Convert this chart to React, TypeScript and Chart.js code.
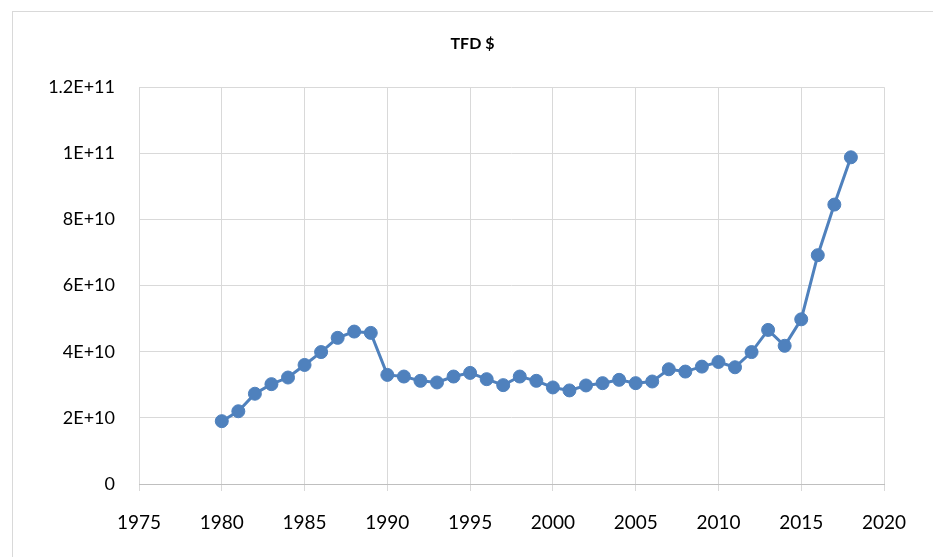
import React, { useEffect, useRef } from "react";
import { Chart, registerables } from "chart.js";

Chart.register(...registerables);

const chartTitle = "TFD $";

const years = [
  1980, 1981, 1982, 1983, 1984, 1985, 1986, 1987, 1988, 1989,
  1990, 1991, 1992, 1993, 1994, 1995, 1996, 1997, 1998, 1999,
  2000, 2001, 2002, 2003, 2004, 2005, 2006, 2007, 2008, 2009,
  2010, 2011, 2012, 2013, 2014, 2015, 2016, 2017, 2018,
];

const tfdValues = [
  1.9e10, 2.2e10, 2.73e10, 3.02e10, 3.22e10, 3.6e10, 3.99e10, 4.42e10, 4.61e10, 4.57e10,
  3.3e10, 3.25e10, 3.12e10, 3.07e10, 3.25e10, 3.36e10, 3.17e10, 2.99e10, 3.25e10, 3.12e10,
  2.92e10, 2.83e10, 2.98e10, 3.05e10, 3.15e10, 3.05e10, 3.1e10, 3.47e10, 3.4e10, 3.55e10,
  3.69e10, 3.53e10, 3.99e10, 4.66e10, 4.18e10, 4.98e10, 6.92e10, 8.45e10, 9.88e10,
];

const yTickLabels = ["0", "2E+10", "4E+10", "6E+10", "8E+10", "1E+11", "1.2E+11"];

const xMin = 1975;
const xMax = 2020;
const xStep = 5;
const yMin = 0;
const yMax = 1.2e11;
const yStep = 2e10;

const seriesColor = "#4F81BD";
const gridColor = "#d9d9d9";
const fontFamily = "Lato, 'Open Sans', sans-serif";

const framePlugin = {
  id: "frame",
  beforeDraw(chart: any) {
    const ctx = chart.ctx;
    ctx.save();
    ctx.strokeStyle = "#d9d9d9";
    ctx.lineWidth = 1;
    ctx.strokeRect(12.5, 11.5, 1000, 1000);
    ctx.restore();
  },
};

export default function App() {
  const ref = useRef<HTMLCanvasElement | null>(null);

  useEffect(() => {
    if (!ref.current) return;
    const points = years.map((y, i) => ({ x: y, y: tfdValues[i] }));
    const chart = new Chart(ref.current, {
      type: "line",
      data: {
        datasets: [
          {
            label: chartTitle,
            data: points,
            borderColor: seriesColor,
            backgroundColor: seriesColor,
            borderWidth: 3,
            pointRadius: 6.5,
            pointBorderWidth: 1,
            pointBackgroundColor: seriesColor,
            pointBorderColor: seriesColor,
            tension: 0,
            clip: false as any,
          },
        ],
      },
      options: {
        animation: false,
        responsive: false,
        devicePixelRatio: 1,
        layout: { padding: { left: 12, top: 12, right: 0, bottom: 0 } },
        plugins: {
          legend: { display: false },
          tooltip: { enabled: false },
          title: {
            display: true,
            text: chartTitle,
            color: "#000",
            font: { family: fontFamily, size: 16, weight: "bold" },
            padding: { top: 22, bottom: 34 },
          },
        },
        scales: {
          x: {
            type: "linear",
            min: xMin,
            max: xMax,
            grid: { color: gridColor, lineWidth: 1, tickLength: 7, drawTicks: true },
            border: { display: true, color: "#bfbfbf", width: 1 },
            ticks: {
              stepSize: xStep,
              color: "#000",
              font: { family: fontFamily, size: 19 },
              padding: 20,
              maxRotation: 0,
              callback: (v: any) => String(v),
            },
            afterFit: (s: any) => {
              s.height = 73;
            },
          },
          y: {
            type: "linear",
            min: yMin,
            max: yMax,
            grid: { color: gridColor, lineWidth: 1, drawTicks: false, tickLength: 0 },
            border: { display: false },
            ticks: {
              stepSize: yStep,
              color: "#000",
              font: { family: fontFamily, size: 18 },
              padding: 24,
              callback: (_v: any, i: number) => yTickLabels[i],
            },
            afterFit: (s: any) => {
              s.width = 127;
            },
          },
          yRight: {
            type: "linear",
            position: "right",
            display: true,
            grid: { display: false, drawTicks: false },
            border: { display: false },
            ticks: { display: false },
            afterFit: (s: any) => {
              s.width = 49;
            },
          },
        },
      } as any,
      plugins: [framePlugin],
    });
    return () => chart.destroy();
  }, []);

  return (
    <div style={{ position: "absolute", left: 0, top: 0, width: 933, height: 557 }}>
      <canvas ref={ref} width={933} height={557} />
    </div>
  );
}
